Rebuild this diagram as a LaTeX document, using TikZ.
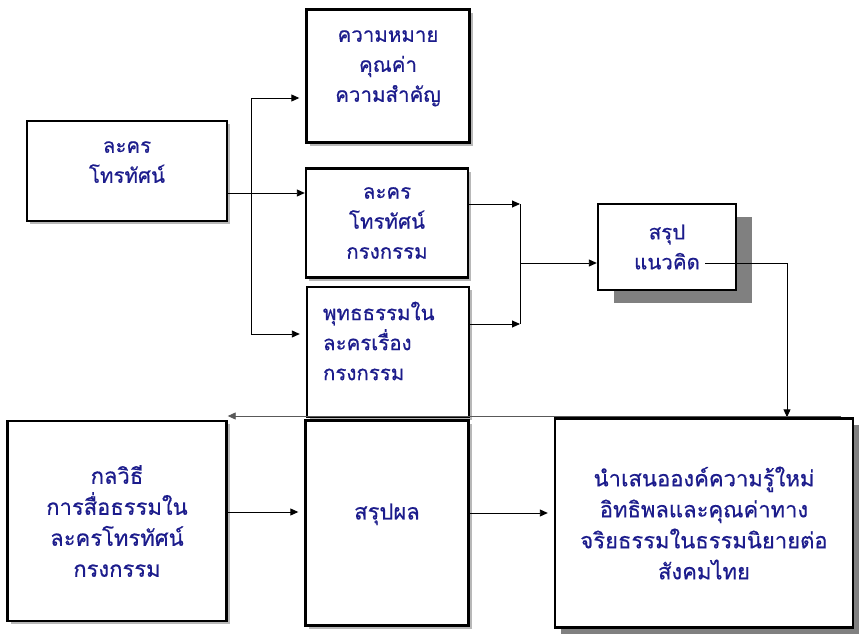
\documentclass[tikz,border=0pt]{standalone}
\usepackage{fontspec}
\newfontfamily\thaifont[Script=Thai,FakeBold=0.5]{Loma}
\usetikzlibrary{arrows.meta,shadows}
\definecolor{thainavy}{RGB}{28,28,140}
\tikzset{
  box/.style={draw, line width=2.4pt, fill=white, align=center, inner sep=0pt,
    text=thainavy, font=\thaifont\fontsize{20.5}{30}\selectfont},
  lowbox/.style={box, font=\thaifont\fontsize{22}{31}\selectfont},
  softshadow/.style={drop shadow={shadow xshift=3pt, shadow yshift=-3pt,
    fill=black!28, opacity=1}},
  arrow/.style={-{Triangle[length=8pt,width=7pt]}, line width=0.9pt}
}
\begin{document}
\begin{tikzpicture}[x=1pt, y=-1pt]
  \useasboundingbox (0,0) rectangle (864,637);
  % boxes
  \node[box, softshadow, minimum width=200pt, minimum height=100pt] (lakhon) at (127,171)
    {ละคร\\โทรทัศน์\\[-12pt]};
  \node[box, softshadow, minimum width=163pt, minimum height=133pt] (khunkha) at (388,76)
    {ความหมาย\\คุณค่า\\ความสำคัญ\\[-10pt]};
  \node[box, softshadow, minimum width=162pt, minimum height=109pt] (krongkam) at (387,223)
    {ละคร\\โทรทัศน์\\กรงกรรม};
  \node[box, softshadow, minimum width=162pt, minimum height=130pt, text width=130pt, align=left] (phuttha) at (388,352)
    {พุทธธรรมใน\\ละครเรื่อง\\กรงกรรม\par\vspace{22pt}};
  \node[box, minimum width=138pt, minimum height=86pt,
    drop shadow={shadow xshift=16pt, shadow yshift=-13pt, fill=black!50, opacity=1}] (naewkhit) at (667,247)
    {สรุป\\แนวคิด};
  \node[lowbox, softshadow, minimum width=219pt, minimum height=200pt] (klawithi) at (117,521)
    {กลวิธี\\การสื่อธรรมใน\\ละครโทรทัศน์\\กรงกรรม};
  \node[lowbox, softshadow, minimum width=163pt, minimum height=205pt] (sarupphon) at (387,523)
    {สรุปผล\\[-8pt]};
  \node[lowbox, minimum width=298pt, minimum height=209pt,
    drop shadow={shadow xshift=6pt, shadow yshift=-6pt, fill=black!50, opacity=1}] (namsanoe) at (704,523)
    {นำเสนอองค์ความรู้ใหม่\\อิทธิพลและคุณค่าทาง\\จริยธรรมในธรรมนิยายต่อ\\สังคมไทย};
  % connectors
  \coordinate (forkT) at (251,98);
  \coordinate (forkM) at (251,193);
  \coordinate (forkB) at (251,334);
  \draw[line width=0.9pt] (forkT) -- (forkB);
  \draw[arrow] (lakhon.east |- forkM) -- (forkM -| krongkam.west);
  \draw[arrow, shorten >=6pt] (forkT) -- (forkT -| khunkha.west);
  \draw[arrow, shorten >=6pt] (forkB) -- (forkB -| phuttha.west);
  \coordinate (joinT) at (520,204);
  \coordinate (joinM) at (520,263);
  \coordinate (joinB) at (520,324);
  \draw[arrow] (krongkam.east |- joinT) -- (joinT);
  \draw[arrow] (phuttha.east |- joinB) -- (joinB);
  \draw[line width=0.9pt] (joinT) -- (joinB);
  \draw[arrow] (joinM) -- (joinM -| naewkhit.west);
  \coordinate (khitOut) at (705,263);
  \coordinate (turn) at (787,263);
  \draw[arrow] (khitOut) -- (turn) -- (turn |- namsanoe.north);
  \coordinate (backR) at (841,416);
  \draw[arrow, black!65] (backR) -- (backR -| klawithi.east);
  \draw[arrow, shorten >=6pt] ([yshift=9pt]klawithi.east) -- ([yshift=9pt]klawithi.east -| sarupphon.west);
  \draw[arrow, shorten >=6pt] ([yshift=10pt]sarupphon.east) -- ([yshift=10pt]sarupphon.east -| namsanoe.west);
\end{tikzpicture}
\end{document}
